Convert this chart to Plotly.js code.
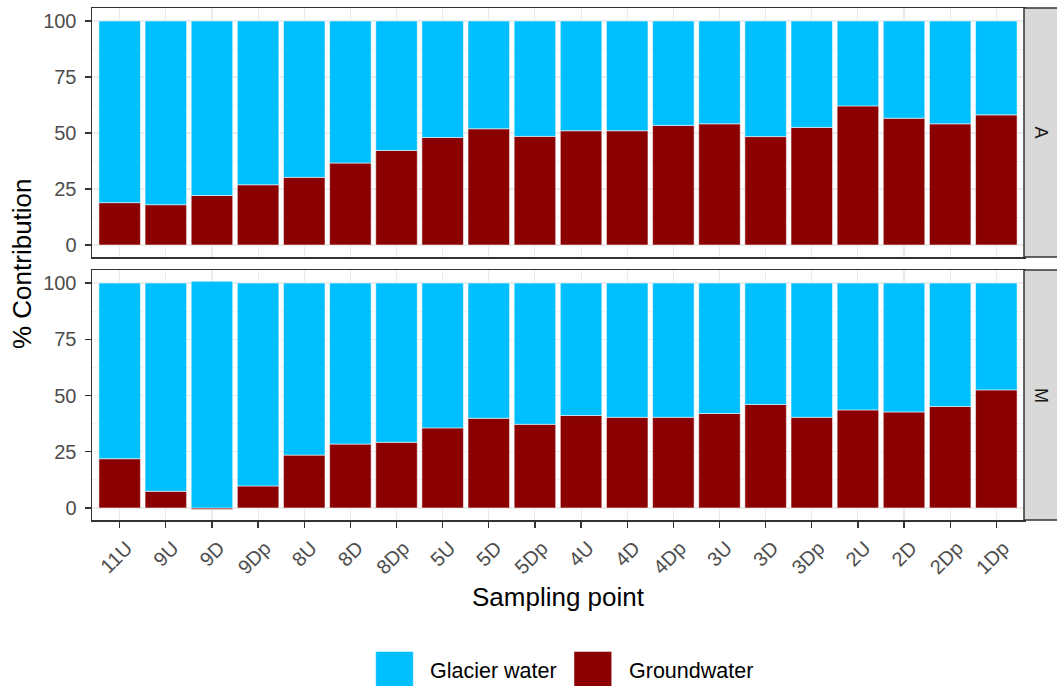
<!DOCTYPE html>
<html>
<head>
<meta charset="utf-8">
<script src="https://cdn.plot.ly/plotly-3.0.1.min.js"></script>
<style>html,body{margin:0;padding:0;background:#fff;}#chart{width:1057px;height:686px;}</style>
</head>
<body>
<div id="chart"></div>
<script>
const samplingPoints = ['11U','9U','9D','9Dp','8U','8D','8Dp','5U','5D','5Dp','4U','4D','4Dp','3U','3D','3Dp','2U','2D','2Dp','1Dp'];
const panelNames = ['A', 'M'];
const seriesNames = ['Glacier water', 'Groundwater'];
const seriesColors = ['#00BFFF', '#8B0000'];
const groundwaterA = [18.9,18.0,22.1,26.9,30.2,36.6,42.2,48.0,51.9,48.5,51.0,51.0,53.4,54.1,48.4,52.5,62.1,56.6,54.1,58.1];
const glacierA     = [81.1,82.0,77.9,73.1,69.8,63.4,57.8,52.0,48.1,51.5,49.0,49.0,46.6,45.9,51.6,47.5,37.9,43.4,45.9,41.9];
const groundwaterM = [21.9,7.4,-0.7,9.8,23.5,28.4,29.2,35.6,39.9,37.2,41.1,40.3,40.3,42.0,46.0,40.3,43.6,42.7,45.1,52.5];
const glacierM     = [78.1,92.6,100.8,90.2,76.5,71.6,70.8,64.4,60.1,62.8,58.9,59.7,59.7,58.0,54.0,59.7,56.4,57.3,54.9,47.5];
const yTickVals = [0, 25, 50, 75, 100];
const yTickText = ['0', '25', '50', '75', '100'];

const FONT = 'Liberation Sans, Arial, sans-serif';
const barLine = {color: 'rgba(255,255,255,0.9)', width: 0.6};

function bar(y, idx, xa, ya) {
  return {type: 'bar', x: samplingPoints, y: y, name: seriesNames[idx], xaxis: xa, yaxis: ya,
    marker: {color: seriesColors[idx], line: barLine}, showlegend: false, hoverinfo: 'x+y+name'};
}
const data = [
  bar(groundwaterA, 1, 'x', 'y'), bar(glacierA, 0, 'x', 'y'),
  bar(groundwaterM, 1, 'x2', 'y2'), bar(glacierM, 0, 'x2', 'y2')
];

const L = 92, R = 33, T = 8, B = 166, W = 1057, H = 686;
const pw = W - L - R, ph = H - T - B;
const px = v => (v - L) / pw;          // pixel -> paper x
const py = v => (H - B - v) / ph;      // pixel -> paper y
const topDom = [py(257), 1];
const botDom = [0, py(270)];
const yRange = [-5.35, 105.8];
const xRange = [-0.6, 19.6];

const commonX = {type: 'category', range: xRange, showgrid: true, gridcolor: '#EBEBEB', gridwidth: 1.1,
  showline: true, mirror: true, linecolor: '#333333', linewidth: 1.5, zeroline: false, fixedrange: true};
const commonY = {range: yRange, tickmode: 'array', tickvals: yTickVals, ticktext: yTickText,
  ticks: 'outside', ticklen: 6, tickwidth: 1.3, tickcolor: '#333333',
  tickfont: {family: FONT, size: 20, color: '#4D4D4D'}, ticklabelstandoff: 4,
  showgrid: true, gridcolor: '#EBEBEB', gridwidth: 1.1, zeroline: false,
  showline: true, mirror: true, linecolor: '#333333', linewidth: 1.5, fixedrange: true,
  minor: {tickmode: 'linear', tick0: 12.5, dtick: 25, showgrid: true, gridcolor: '#F3F3F3', gridwidth: 1, ticks: ''}};

const shapes = [];
const annotations = [];
[topDom, botDom].forEach((dom, i) => {
  shapes.push({type: 'rect', xref: 'paper', yref: 'paper', x0: 1, x1: px(1062), y0: dom[0], y1: dom[1],
    fillcolor: '#D9D9D9', line: {color: '#333333', width: 1.5}, layer: 'above'});
  annotations.push({xref: 'paper', yref: 'paper', x: px(1041), y: (dom[0] + dom[1]) / 2, text: panelNames[i],
    xanchor: 'center', yanchor: 'middle',
    showarrow: false, textangle: 90, font: {family: FONT, size: 18, color: '#1A1A1A'}});
});
// y title
annotations.push({xref: 'paper', yref: 'paper', x: px(22), y: py(264), xanchor: 'center', yanchor: 'middle',
  text: '% Contribution', showarrow: false,
  textangle: -90, font: {family: FONT, size: 26, color: '#000000'}});
// legend (drawn keys)
const legendKeys = [[375.7, 413.3, 428.3], [574, 611.7, 626.7]];
legendKeys.forEach((k, i) => {
  const idx = i === 0 ? 0 : 1;
  shapes.push({type: 'rect', xref: 'paper', yref: 'paper', x0: px(k[0]), x1: px(k[1]), y0: py(689), y1: py(651.5),
    fillcolor: seriesColors[idx], line: {color: 'rgba(255,255,255,0.8)', width: 0.6}});
  annotations.push({xref: 'paper', yref: 'paper', x: px(k[2]), y: py(671), xanchor: 'left', yanchor: 'middle',
    text: seriesNames[idx], showarrow: false, font: {family: FONT, size: 21.5, color: '#000000'}});
});

const layout = {
  width: W, height: H, margin: {l: L, r: R, t: T, b: B, pad: 0},
  paper_bgcolor: '#FFFFFF', plot_bgcolor: '#FFFFFF',
  barmode: 'relative', bargap: 0.1, showlegend: false,
  font: {family: FONT},
  xaxis: Object.assign({}, commonX, {domain: [0, 1], anchor: 'y', showticklabels: false, ticks: ''}),
  yaxis: Object.assign({}, commonY, {domain: topDom, anchor: 'x'}),
  xaxis2: Object.assign({}, commonX, {domain: [0, 1], anchor: 'y2', ticks: 'outside', ticklen: 6, tickwidth: 1.3,
    tickcolor: '#333333', tickangle: -45, tickfont: {family: FONT, size: 20, color: '#4D4D4D'},
    ticklabelshift: 7, ticklabelstandoff: 1,
    title: {text: 'Sampling point', font: {family: FONT, size: 26, color: '#000000'}, standoff: 10}}),
  yaxis2: Object.assign({}, commonY, {domain: botDom, anchor: 'x2'}),
  shapes: shapes,
  annotations: annotations
};
Plotly.newPlot('chart', data, layout, {displayModeBar: false, staticPlot: true});
</script>
</body>
</html>
